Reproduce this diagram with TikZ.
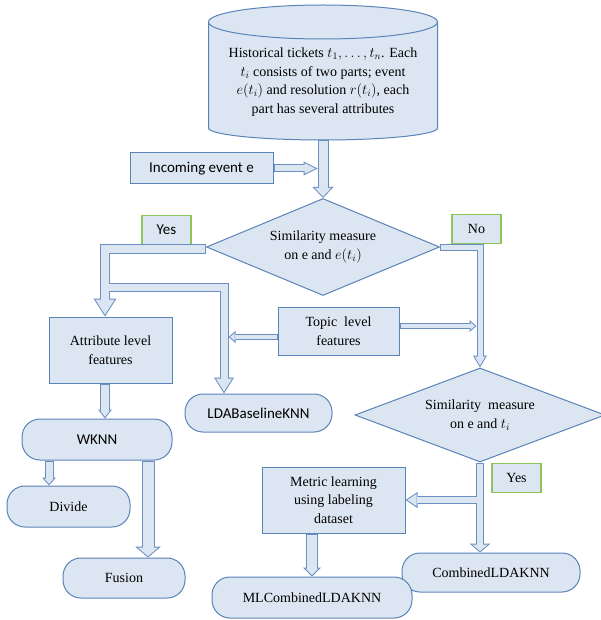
\documentclass[tikz,border=0pt]{standalone}
\usepackage{fontspec}
\setmainfont{Liberation Serif}
\newfontfamily\calibrifont{Carlito}
\usetikzlibrary{shapes.geometric,arrows.meta}

\definecolor{nodefill}{HTML}{DCE6F2}
\definecolor{nodeedge}{HTML}{5A83B8}
\definecolor{arrowedge}{HTML}{6A8FC0}
\definecolor{arrowfill}{HTML}{DCE6F2}
\definecolor{answergreen}{HTML}{8DC55A}

\tikzset{
  box/.style={draw=nodeedge, fill=nodefill, line width=1pt, align=center, inner sep=2pt},
  roundbox/.style={box, rounded corners=18pt},
  decision/.style={box, diamond, aspect=2.5, inner sep=0pt},
  answer/.style={draw=answergreen, fill=nodefill, line width=1.2pt, minimum width=49, minimum height=29, inner sep=0pt},
  sanstext/.style={font=\calibrifont\fontsize{15}{18}\selectfont},
  dbshape/.style={draw=nodeedge, fill=nodefill, line width=1pt},
  dbtext/.style={align=center, inner sep=0pt, minimum width=229, minimum height=116},
  arrowinner/.style={draw=arrowfill, shorten <=1pt},
  % shaft / head width / head length
  blockarrow/.code args={#1/#2/#3}{%
    \pgfmathsetmacro\batip{sqrt((#3)^2+(#2/2)^2)/(#2/2)}%
    \pgfmathsetmacro\balen{#3-\batip-1}%
    \pgfmathsetmacro\bawid{#2*\balen/#3}%
    \pgfmathsetmacro\bashaft{#1-2}%
    \pgfkeysalso{draw=arrowedge, line width=#1pt, line join=miter,
      -{Triangle[length=#3pt, width=#2pt, line width=0pt]},
      postaction={arrowinner, line width=\bashaft pt, shorten >=\batip pt,
        -{Triangle[length=\balen pt, width=\bawid pt, line width=0pt]}}}},
}

\begin{document}
\begin{tikzpicture}[x=1pt, y=-1pt, font=\fontsize{14}{18.5}\selectfont]
  \useasboundingbox (0,0) rectangle (600,620);

  % database of tickets
  \filldraw[dbshape] (208.5,22) -- (208.5,128) arc (180:0:114.5 and 12) -- (437.5,22) -- cycle;
  \filldraw[dbshape] (323,22) ellipse (114.5 and 17);
  \node[dbtext] (hist) at (323,82) {Historical tickets $t_1,\dots,t_n$. Each\\ $t_i$ consists of two parts; event\\ $e(t_i)$ and resolution $r(t_i)$, each\\ part has several attributes};

  \node[box, sanstext, minimum width=143, minimum height=31] (incoming) at (201.5,168.5) {Incoming event e};
  \node[decision, minimum width=233, minimum height=97] (sim1) at (323,247) {Similarity measure\\ on e and $e(t_i)$};
  \node[answer, sanstext] (yes1) at (166.5,230) {Yes};
  \node[answer] (no1) at (476.5,229) {No};

  \node[box, minimum width=123, minimum height=66] (attr) at (110.5,350) {Attribute level\\ features};
  \node[box, minimum width=121, minimum height=48] (topic) at (338.5,331) {Topic~ level\\ features};
  \node[roundbox, sanstext, minimum width=147, minimum height=38] (ldabase) at (258.5,413) {LDABaselineKNN};

  \node[decision, minimum width=250, minimum height=94] (sim2) at (480,415) {Similarity~ measure\\ on e and $t_i$};
  \node[answer] (yes2) at (516.5,478) {Yes};
  \node[box, minimum width=143, minimum height=66] (metric) at (333.5,500) {Metric learning\\ using labeling\\ dataset};
  \node[roundbox, minimum width=178, minimum height=39] (combined) at (491,572.5) {CombinedLDAKNN};
  \node[roundbox, minimum width=200, minimum height=41] (mlcombined) at (312,597.5) {MLCombinedLDAKNN};

  \node[roundbox, sanstext, minimum width=150, minimum height=41] (wknn) at (97,439.5) {WKNN};
  \node[roundbox, minimum width=123, minimum height=41] (divide) at (68.5,506.5) {Divide};
  \node[roundbox, minimum width=122, minimum height=40] (fusion) at (124,578) {Fusion};

  % free ends on other arrows
  \coordinate (inctip) at (317.5,168.5);
  \coordinate (ysplit) at (109,287);
  \coordinate (ldaedge) at (228.5,337);
  \coordinate (noedge) at (476.5,326);
  \coordinate (msplit) at (477,500);

  % arrows
  \draw[blockarrow=11/21/11] (hist.south) -- (sim1.north);
  \draw[blockarrow=8/14/14] (incoming.east) -- (inctip);
  \draw[blockarrow=10/23/18] ([yshift=-2pt]sim1.west) -| ([xshift=-5.5pt]attr.north);
  \draw[blockarrow=9/20/16, arrowinner/.append style={shorten <=0pt}] (ysplit) -| ([xshift=-34.5pt]ldabase.north);
  \draw[blockarrow=7/14/12] (sim1.east) -| (sim2.north);
  \draw[blockarrow=6/12/7] ([yshift=-6pt]topic.west) -- (ldaedge);
  \draw[blockarrow=6/12/7] ([yshift=5pt]topic.east) -- (noedge);
  \draw[blockarrow=8/21/9] (sim2.south) -- (sim2.south |- combined.north);
  \draw[blockarrow=8/16/12, arrowinner/.append style={shorten <=0pt}] (msplit) -- (metric.east);
  \draw[blockarrow=12/18/9] ([xshift=-21.5pt]metric.south) -- (mlcombined.north);
  \draw[blockarrow=10/14/9] ([xshift=-5.5pt]attr.south) -- ([xshift=-5.5pt]attr.south |- wknn.north);
  \draw[blockarrow=9/14/8] ([xshift=-48pt]wknn.south) -- ([xshift=-48pt]wknn.south |- divide.north);
  \draw[blockarrow=13/26/11] ([xshift=51pt]wknn.south) -- ([xshift=51pt]wknn.south |- fusion.north);
\end{tikzpicture}
\end{document}
